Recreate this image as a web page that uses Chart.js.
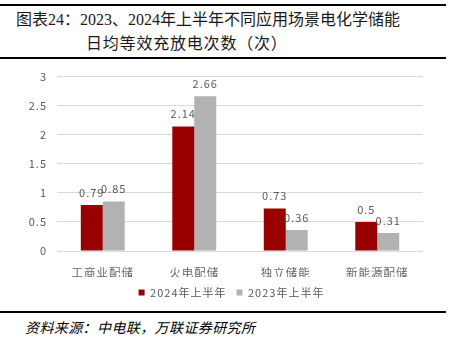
<!DOCTYPE html>
<html>
<head>
<meta charset="utf-8">
<script src="https://cdn.jsdelivr.net/npm/chart.js@4/dist/chart.umd.min.js"></script>
<style>
  html, body { margin: 0; padding: 0; background: #fff; }
  body { width: 467px; height: 343px; position: relative; overflow: hidden; }
  .rule { position: absolute; left: 0; width: 446px; height: 2px; background: #000; }
  .title { position: absolute; font-family: "Liberation Serif", "Noto Sans CJK SC", serif; font-size: 16px; color: #1a1a1a; white-space: nowrap; line-height: 20px; }
  .source { position: absolute; left: 25px; top: 317px; font-family: "Noto Sans CJK SC", sans-serif; font-style: italic; font-size: 14px; letter-spacing: 0.4px; color: #000; line-height: 20px; white-space: nowrap; }
  #wrap { position: absolute; left: 0; top: 60px; width: 467px; height: 248px; }
</style>
</head>
<body>
<div class="rule" style="top:4px"></div>
<div class="title" style="left:16px; top:10px">图表24：2023、2024年上半年不同应用场景电化学储能</div>
<div class="title" style="left:86px; top:34px; letter-spacing:0.8px">日均等效充放电次数（次）</div>
<div class="rule" style="top:57px"></div>
<div id="wrap"><canvas id="chart"></canvas></div>
<div class="rule" style="top:311px"></div>
<div class="source">资料来源：中电联，万联证券研究所</div>

<script>
// chart data
const categories = ['工商业配储', '火电配储', '独立储能', '新能源配储'];
const seriesNames = ['2024年上半年', '2023年上半年'];
const values2024 = [0.79, 2.14, 0.73, 0.5];
const values2023 = [0.85, 2.66, 0.36, 0.31];
const yTicks = [0, 0.5, 1, 1.5, 2, 2.5, 3];

const textColor = '#595959';
const cjkFont = '"Noto Sans CJK SC", sans-serif';

// spaced-out text like the original
const spacingPlugin = {
  id: 'spacing',
  beforeDraw(chart) {
    chart.ctx.letterSpacing = '1px';
  }
};

// value labels above each bar
const valueLabels = {
  id: 'valueLabels',
  afterDatasetsDraw(chart) {
    const ctx = chart.ctx;
    ctx.save();
    ctx.font = '11px ' + cjkFont;
    ctx.fillStyle = textColor;
    ctx.textAlign = 'center';
    ctx.textBaseline = 'middle';
    chart.data.datasets.forEach((ds, i) => {
      chart.getDatasetMeta(i).data.forEach((bar, j) => {
        ctx.fillText(String(ds.data[j]), bar.x, bar.y - 12.5);
      });
    });
    ctx.restore();
  }
};

new Chart(document.getElementById('chart'), {
  type: 'bar',
  data: {
    labels: categories,
    datasets: [
      { label: seriesNames[0], data: values2024, backgroundColor: '#990000', borderWidth: 0 },
      { label: seriesNames[1], data: values2023, backgroundColor: '#b2b2b2', borderWidth: 0 }
    ]
  },
  options: {
    responsive: true,
    maintainAspectRatio: false,
    animation: false,
    datasets: {
      bar: { barPercentage: 1, categoryPercentage: 0.48 }
    },
    layout: { padding: { top: 15, right: 44, left: 24, bottom: 0 } },
    plugins: {
      legend: {
        position: 'bottom',
        labels: {
          boxWidth: 6,
          boxHeight: 6,
          padding: 10,
          color: textColor,
          font: { family: cjkFont, size: 11 }
        }
      },
      tooltip: { enabled: false }
    },
    scales: {
      x: {
        grid: { display: false },
        border: { display: false },
        ticks: {
          color: '#666666',
          padding: 7,
          maxRotation: 0,
          autoSkip: false,
          font: { family: cjkFont, size: 11.5 }
        },
        afterFit(scale) { scale.height = 26; }
      },
      y: {
        min: 0,
        max: 3,
        afterBuildTicks(scale) {
          scale.ticks = yTicks.map(v => ({ value: v }));
        },
        grid: { color: '#d9d9d9', lineWidth: 1, drawTicks: false },
        border: { display: false },
        ticks: {
          color: textColor,
          padding: 10,
          font: { family: cjkFont, size: 11 },
          callback: v => String(v)
        },
        afterFit(scale) { scale.width = 33; }
      }
    }
  },
  plugins: [spacingPlugin, valueLabels]
});
</script>
</body>
</html>
